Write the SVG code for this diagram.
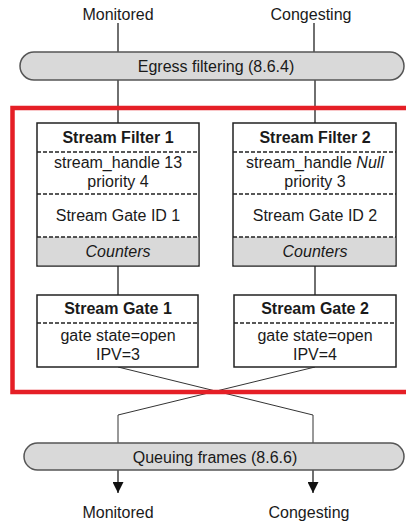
<svg xmlns="http://www.w3.org/2000/svg" width="406" height="523" viewBox="0 0 406 523">
<style>
text{font-family:"Liberation Sans",Arial,sans-serif;font-size:16px;fill:#1a1a1a;text-anchor:middle}
.b{font-weight:bold}
.i{font-style:italic}
.pill{fill:#d9d9d9;stroke:#555;stroke-width:1.5}
.box{fill:#fff;stroke:#222;stroke-width:1.5}
.gray{fill:#d9d9d9;stroke:none}
.dash{stroke:#222;stroke-width:1.3;stroke-dasharray:4 2;fill:none}
.con{stroke:#333;stroke-width:1.4;fill:none}
.thin{stroke:#333;stroke-width:1;fill:none}
</style>
<defs>
<marker id="ah" viewBox="0 0 10 10" refX="10" refY="5" markerWidth="11" markerHeight="11" markerUnits="userSpaceOnUse" orient="auto">
<path d="M0,0 L10,5 L0,10 Z" fill="#111"/>
</marker>
</defs>
<rect width="406" height="523" fill="#fff"/>
<g id="connectors">
<line class="con" x1="118" y1="23" x2="118" y2="52"/>
<line class="con" x1="314" y1="23" x2="314" y2="52"/>
<line class="con" x1="118" y1="80" x2="118" y2="123"/>
<line class="con" x1="315" y1="80" x2="315" y2="123"/>
<line class="con" x1="118" y1="266" x2="118" y2="295"/>
<line class="con" x1="315" y1="266" x2="315" y2="295"/>
<polyline class="thin" points="118,367 313,415 313,443"/>
<polyline class="thin" points="315,367 118,415 118,443"/>
<line class="con" x1="118" y1="470" x2="118" y2="493" marker-end="url(#ah)"/>
<line class="con" x1="313" y1="470" x2="313" y2="493" marker-end="url(#ah)"/>
</g>
<g id="label-monitored-top"><text x="118" y="20">Monitored</text></g>
<g id="label-congesting-top"><text x="311" y="20">Congesting</text></g>
<g id="egress">
<rect class="pill" x="20" y="52" width="384" height="28" rx="14"/>
<text x="216" y="72">Egress filtering (8.6.4)</text>
</g>
<g id="red-frame">
<rect x="12.5" y="108" width="420" height="284" fill="none" stroke="#e51f26" stroke-width="4.5"/>
</g>
<g id="filter1">
<rect class="box" x="37" y="123" width="162" height="143"/>
<rect class="gray" x="37.75" y="237" width="160.5" height="28.25"/>
<line class="dash" x1="37" y1="152" x2="199" y2="152"/>
<line class="dash" x1="37" y1="194" x2="199" y2="194"/>
<line class="dash" x1="37" y1="237" x2="199" y2="237"/>
<text class="b" x="118" y="143">Stream Filter 1</text>
<text x="118" y="168">stream_handle 13</text>
<text x="118" y="187">priority 4</text>
<text x="118" y="221">Stream Gate ID 1</text>
<text class="i" x="118" y="257">Counters</text>
</g>
<g id="filter2">
<rect class="box" x="233" y="123" width="163" height="143"/>
<rect class="gray" x="233.75" y="237" width="161.5" height="28.25"/>
<line class="dash" x1="233" y1="152" x2="396" y2="152"/>
<line class="dash" x1="233" y1="194" x2="396" y2="194"/>
<line class="dash" x1="233" y1="237" x2="396" y2="237"/>
<text class="b" x="315" y="143">Stream Filter 2</text>
<text x="315" y="168">stream_handle <tspan class="i">Null</tspan></text>
<text x="315" y="187">priority 3</text>
<text x="315" y="221">Stream Gate ID 2</text>
<text class="i" x="315" y="257">Counters</text>
</g>
<g id="gate1">
<rect class="box" x="37" y="295" width="161" height="72"/>
<line class="dash" x1="37" y1="323" x2="198" y2="323"/>
<text class="b" x="118" y="314">Stream Gate 1</text>
<text x="118" y="341">gate state=open</text>
<text x="118" y="360">IPV=3</text>
</g>
<g id="gate2">
<rect class="box" x="234" y="295" width="162" height="72"/>
<line class="dash" x1="234" y1="323" x2="396" y2="323"/>
<text class="b" x="315" y="314">Stream Gate 2</text>
<text x="315" y="341">gate state=open</text>
<text x="315" y="360">IPV=4</text>
</g>
<g id="queuing">
<rect class="pill" x="24" y="443" width="380" height="27" rx="13.5"/>
<text x="215" y="463">Queuing frames (8.6.6)</text>
</g>
<g id="label-monitored-bottom"><text x="118" y="518">Monitored</text></g>
<g id="label-congesting-bottom"><text x="309" y="518">Congesting</text></g>
</svg>
